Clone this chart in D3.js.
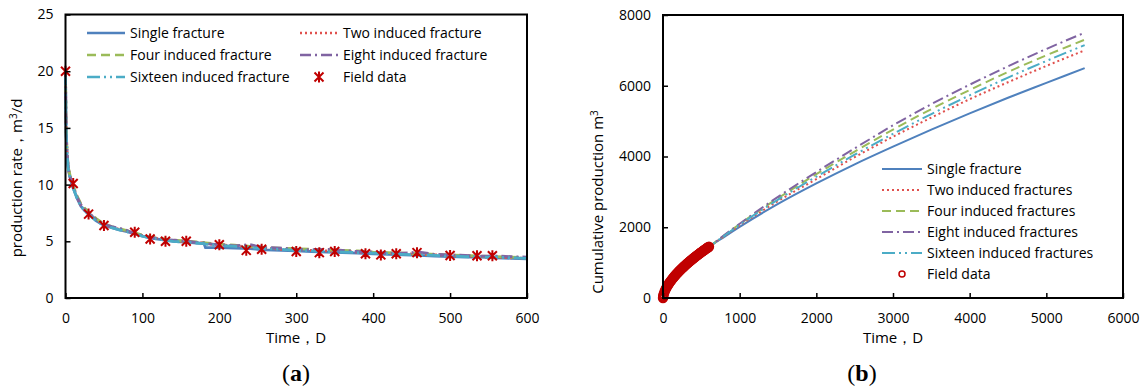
<!DOCTYPE html>
<html lang="en">
<head>
<meta charset="utf-8">
<title>fracture production</title>
<script src="https://d3js.org/d3.v7.min.js"></script>
<style>
  body{margin:0;background:#fff;}
  svg text{font-family:"Open Sans","Liberation Sans",sans-serif;fill:#000;}
</style>
</head>
<body>
<div id="chart"></div>
<script>
// ---- data: panel (a) production rate ----
var tRate = [0,0.5,1,2,3,4,6,8,10,15,20,25,30,40,50,60,70,80,90,100,110,120,130,140,150,160,170,180,182,190,200,220,240,250,260,280,300,320,340,360,380,400,420,440,460,480,500,520,540,560,580,600]
var rateSingle = [20,16,14.2,12.6,11.8,11.2,10.6,10.1,9.7,8.8,8.1,7.7,7.4,6.8,6.4,6.2,6.0,5.85,5.65,5.45,5.3,5.2,5.1,5.0,4.95,4.9,4.85,4.8,4.45,4.45,4.45,4.4,4.35,4.3,4.25,4.2,4.15,4.1,4.05,4.0,3.95,3.9,3.85,3.8,3.75,3.7,3.65,3.6,3.6,3.55,3.5,3.45]
var rateTwo = [20,16.2,14.4,12.8,11.9,11.3,10.7,10.2,9.8,8.9,8.2,7.8,7.5,6.9,6.5,6.25,6.05,5.9,5.7,5.5,5.35,5.25,5.15,5.05,5.0,4.95,4.9,4.85,4.8,4.75,4.7,4.6,4.5,4.45,4.4,4.3,4.25,4.2,4.15,4.1,4.05,4.0,3.95,3.9,3.85,3.8,3.75,3.7,3.65,3.6,3.55,3.5]
var rateFour = [20,16.4,14.6,13.0,12.0,11.4,10.8,10.3,9.9,9.0,8.3,7.9,7.6,7.0,6.55,6.3,6.1,5.95,5.75,5.55,5.4,5.3,5.2,5.1,5.05,5.0,4.95,4.9,4.85,4.8,4.75,4.65,4.55,4.5,4.45,4.4,4.35,4.3,4.25,4.2,4.15,4.05,4.0,3.95,3.9,3.85,3.8,3.75,3.7,3.65,3.6,3.55]
var rateEight = [20,16.3,14.5,12.9,12.0,11.3,10.7,10.2,9.8,8.9,8.2,7.8,7.5,6.9,6.5,6.3,6.15,5.95,5.7,5.5,5.35,5.25,5.15,5.1,5.05,5.0,4.9,4.85,4.8,4.75,4.7,4.6,4.7,4.55,4.45,4.4,4.3,4.25,4.3,4.2,4.1,4.05,3.95,3.95,4.05,3.85,3.8,3.75,3.7,3.7,3.65,3.6]
var rateSixteen = [20,16.1,14.3,12.7,11.8,11.2,10.6,10.1,9.7,8.8,8.1,7.7,7.4,6.8,6.4,6.2,6.0,5.85,5.65,5.45,5.3,5.2,5.1,5.0,4.95,4.9,4.85,4.8,4.75,4.7,4.65,4.55,4.45,4.4,4.35,4.3,4.2,4.15,4.1,4.05,4.0,3.95,3.9,3.85,3.8,3.75,3.7,3.65,3.6,3.6,3.55,3.5]
var fieldRateT = [0,10,30,50,90,110,130,157,200,235,255,300,330,350,390,410,430,457,500,535,555]
var fieldRate = [20,10.1,7.4,6.4,5.8,5.2,5.0,5.0,4.7,4.2,4.3,4.1,4.0,4.1,3.9,3.8,3.9,4.0,3.75,3.72,3.72]

// ---- data: panel (b) cumulative production ----
var tCum = [0,100,200,300,400,500,600,800,1000,1500,2000,2500,3000,3500,4000,4500,5000,5500]
var cumSingle = [0,420,650,860,1060,1260,1440,1730,2010,2660,3240,3780,4280,4760,5220,5660,6080,6500]
var cumTwo = [0,420,650,860,1060,1260,1440,1750,2050,2740,3360,3980,4560,5100,5620,6100,6560,7000]
var cumFour = [0,420,650,860,1060,1260,1440,1770,2090,2820,3500,4140,4760,5340,5880,6390,6860,7300]
var cumEight = [0,420,650,860,1060,1260,1440,1780,2100,2860,3560,4230,4880,5480,6030,6550,7040,7500]
var cumSixteen = [0,420,650,860,1060,1260,1440,1760,2070,2780,3430,4050,4640,5200,5730,6230,6700,7150]
var fieldCumT = [0,2,5,10,20,30,40,50,60,70,80,90,100,110,120,130,140,150,160,170,180,190,200,210,220,230,240,250,260,270,280,290,300,310,320,330,340,350,360,370,380,390,400,410,420,430,440,450,460,470,480,490,500,510,520,530,540,550,560,570,580,590,600]
var fieldCum = [0,36,75,115,176,226,271,311,348,383,416,447,477,507,535,562,588,614,639,664,687,711,734,756,779,800,822,843,863,884,904,924,944,963,982,1001,1020,1038,1056,1074,1092,1110,1128,1145,1162,1179,1196,1213,1230,1246,1263,1279,1295,1311,1327,1343,1358,1374,1389,1405,1420,1435,1450]

var rateTicksY = [0,5,10,15,20,25]
var rateTicksX = [0,100,200,300,400,500,600]
var cumTicksY = [0,2000,4000,6000,8000]
var cumTicksX = [0,1000,2000,3000,4000,5000,6000]

var colors = ["#4F81BD","#E0504D","#9BBB59","#8064A2","#4BACC6"]
var dashes = ["none","2,3","9,5","11,4,2,4","13,4,2,4,2,4"]
var fieldColor = "#C00000"

var svg = d3.select("#chart").append("svg")
  .attr("width",1146).attr("height",389)
svg.append("rect").attr("width",1146).attr("height",389).attr("fill","#fff")

function star(g,x,y){
  var s = 4.5
  g.append("path")
    .attr("d","M"+(x-s)+","+(y-s)+"L"+(x+s)+","+(y+s)+"M"+(x-s)+","+(y+s)+"L"+(x+s)+","+(y-s)+"M"+x+","+(y-s-1)+"L"+x+","+(y+s+1))
    .attr("stroke",fieldColor).attr("stroke-width",2).attr("fill","none")
}

function frame(g,x,y,xr,yr,xt,yt){
  var xAxis = d3.axisBottom(x).tickValues(xt).tickSize(-5).tickPadding(15).tickFormat(d3.format("d"))
  var yAxis = d3.axisLeft(y).tickValues(yt).tickSize(-5).tickPadding(12).tickFormat(d3.format("d"))
  var gx = g.append("g").attr("transform","translate(0,"+yr[0]+")").call(xAxis)
  var gy = g.append("g").attr("transform","translate("+xr[0]+",0)").call(yAxis)
  ;[gx,gy].forEach(function(a){
    a.select(".domain").remove()
    a.selectAll(".tick line").attr("stroke","#000").attr("stroke-width",1.5)
    a.selectAll("text").attr("font-size","14px").attr("fill","#000")
  })
  g.append("rect")
    .attr("x",xr[0]).attr("y",yr[1]).attr("width",xr[1]-xr[0]).attr("height",yr[0]-yr[1])
    .attr("fill","none").attr("stroke","#000").attr("stroke-width",2)
}

// ---------- panel (a) ----------
function drawRate(){
  var x = d3.scaleLinear().domain([0,600]).range([65.5,527])
  var y = d3.scaleLinear().domain([0,25]).range([298,14.5])
  var g = svg.append("g")
  var series = [rateSingle,rateTwo,rateFour,rateEight,rateSixteen]
  var line = d3.line().x(function(d){return x(d[0])}).y(function(d){return y(d[1])})
  series.forEach(function(vals,k){
    g.append("path")
      .attr("d",line(tRate.map(function(t,i){return [t,vals[i]]})))
      .attr("fill","none").attr("stroke",colors[k]).attr("stroke-width",2.8)
      .attr("stroke-dasharray",dashes[k])
  })
  fieldRateT.forEach(function(t,i){ star(g,x(t),y(fieldRate[i])) })
  frame(g,x,y,[65.5,527],[298,14.5],rateTicksX,rateTicksY)

  // legend, two columns
  var names = ["Single fracture","Two induced fracture","Four induced fracture","Eight induced fracture","Sixteen induced fracture","Field data"]
  names.forEach(function(n,k){
    var col = k%2, row = Math.floor(k/2)
    var lx = col==0 ? 87 : 300
    var ly = 33 + row*22
    if(k<5){
      g.append("line").attr("x1",lx).attr("x2",lx+38).attr("y1",ly).attr("y2",ly)
        .attr("stroke",colors[k]).attr("stroke-width",2.5).attr("stroke-dasharray",dashes[k])
    }else{
      star(g,lx+19,ly)
    }
    g.append("text").attr("x",lx+43).attr("y",ly+5).attr("font-size","14px").text(n)
  })

  g.append("text").attr("x",296).attr("y",343).attr("text-anchor","middle").attr("font-size","15px").text("Time，D")
  var yt = g.append("text").attr("transform","translate(22,178) rotate(-90)").attr("text-anchor","middle").attr("font-size","15px")
  yt.append("tspan").text("production rate，m")
  yt.append("tspan").attr("dy",-5).attr("font-size","10px").text("3")
  yt.append("tspan").attr("dy",5).text("/d")
  var lab = g.append("text").attr("x",296).attr("y",381).attr("text-anchor","middle")
    .attr("font-size","24px").style("font-family","'Liberation Serif',serif")
  lab.append("tspan").text("(")
  lab.append("tspan").attr("font-weight","bold").text("a")
  lab.append("tspan").text(")")
}

// ---------- panel (b) ----------
function drawCum(){
  var x = d3.scaleLinear().domain([0,6000]).range([663,1123])
  var y = d3.scaleLinear().domain([0,8000]).range([298,15])
  var g = svg.append("g")
  var series = [cumSingle,cumTwo,cumFour,cumEight,cumSixteen]
  var line = d3.line().curve(d3.curveMonotoneX).x(function(d){return x(d[0])}).y(function(d){return y(d[1])})
  series.forEach(function(vals,k){
    g.append("path")
      .attr("d",line(tCum.map(function(t,i){return [t,vals[i]]})))
      .attr("fill","none").attr("stroke",colors[k]).attr("stroke-width",2)
      .attr("stroke-dasharray",dashes[k])
  })
  fieldCumT.forEach(function(t,i){
    g.append("circle").attr("cx",x(t)).attr("cy",y(fieldCum[i])).attr("r",4.2)
      .attr("fill","none").attr("stroke",fieldColor).attr("stroke-width",2)
  })
  frame(g,x,y,[663,1123],[298,15],cumTicksX,cumTicksY)

  var names = ["Single fracture","Two induced fractures","Four induced fractures","Eight induced fractures","Sixteen induced fractures","Field data"]
  names.forEach(function(n,k){
    var ly = 169 + k*21
    if(k<5){
      g.append("line").attr("x1",882).attr("x2",922).attr("y1",ly).attr("y2",ly)
        .attr("stroke",colors[k]).attr("stroke-width",2).attr("stroke-dasharray",dashes[k])
    }else{
      g.append("circle").attr("cx",902).attr("cy",ly).attr("r",3)
        .attr("fill","none").attr("stroke",fieldColor).attr("stroke-width",1.5)
    }
    g.append("text").attr("x",927).attr("y",ly+5).attr("font-size","14px").text(n)
  })

  g.append("text").attr("x",893).attr("y",343).attr("text-anchor","middle").attr("font-size","15px").text("Time，D")
  var yt = g.append("text").attr("transform","translate(603,202) rotate(-90)").attr("text-anchor","middle").attr("font-size","15px")
  yt.append("tspan").text("Cumulative production m")
  yt.append("tspan").attr("dy",-5).attr("font-size","10px").text("3")
  var lab = g.append("text").attr("x",862).attr("y",381).attr("text-anchor","middle")
    .attr("font-size","24px").style("font-family","'Liberation Serif',serif")
  lab.append("tspan").text("(")
  lab.append("tspan").attr("font-weight","bold").text("b")
  lab.append("tspan").text(")")
}

drawRate()
drawCum()
</script>
</body>
</html>
